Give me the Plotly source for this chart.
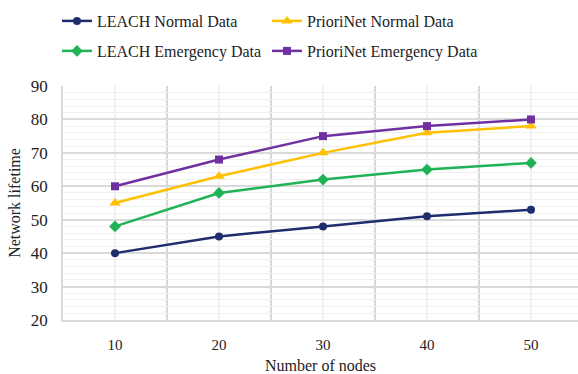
import plotly.graph_objects as go

nodes = [10, 20, 30, 40, 50]
tick_labels = ["10", "20", "30", "40", "50"]
leach_normal = [40, 45, 48, 51, 53]
priori_normal = [55, 63, 70, 76, 78]
leach_emerg = [48, 58, 62, 65, 67]
priori_emerg = [60, 68, 75, 78, 80]

names = ["LEACH Normal Data", "PrioriNet Normal Data", "LEACH Emergency Data", "PrioriNet Emergency Data"]
series = [leach_normal, priori_normal, leach_emerg, priori_emerg]
colors = ["#1F2C6E", "#FFC000", "#1FB356", "#7030A0"]
symbols = ["circle", "triangle-up", "diamond", "square"]
sizes = [8, 10, 9, 8]
legends = ["legend", "legend2", "legend3", "legend4"]

pos = list(range(1, len(nodes) + 1))
FONT = "Liberation Serif"

fig = go.Figure()
for n, s, c, sym, sz, lg in zip(names, series, colors, symbols, sizes, legends):
    fig.add_trace(go.Scatter(
        x=pos, y=s, name=n, mode="lines+markers",
        line=dict(color=c, width=2.5),
        marker=dict(symbol=sym, size=sz, color=c),
        legend=lg, showlegend=True,
    ))

leg = dict(orientation="h", xref="container", yref="container",
           xanchor="left", yanchor="top",
           font=dict(size=16, family=FONT, color="#222222"), itemwidth=30,
           bgcolor="rgba(0,0,0,0)")
W, H = 578, 374
fig.update_layout(
    width=W, height=H, showlegend=True,
    margin=dict(l=63, r=0, t=86, b=51),
    plot_bgcolor="white", paper_bgcolor="white",
    font=dict(family=FONT, size=16, color="#222222"),
    legend=dict(leg, x=57 / W, y=1 - 4 / H),
    legend2=dict(leg, x=267 / W, y=1 - 4 / H),
    legend3=dict(leg, x=57 / W, y=1 - 34 / H),
    legend4=dict(leg, x=267 / W, y=1 - 34 / H),
)

fig.update_xaxes(
    range=[0.5, 0.5 + 515 / 104],
    tickvals=pos, ticktext=tick_labels,
    tickfont=dict(size=15),
    showgrid=True, gridcolor="#F0F0F0", gridwidth=1.5,
    minor=dict(tickvals=[p - 0.5 for p in pos] + [pos[-1] + 0.5],
               showgrid=True, gridcolor="#D9D9D9", gridwidth=1.5),
    showline=True, linecolor="#D9D9D9", linewidth=1.5,
    ticks="", ticklabelstandoff=10,
    title=dict(text="Number of nodes", standoff=10, font=dict(size=16)),
    zeroline=False,
)
fig.update_yaxes(
    range=[20, 90], dtick=10, tick0=20,
    tickfont=dict(size=17),
    showgrid=True, gridcolor="#D9D9D9", gridwidth=1.5,
    minor=dict(dtick=2, showgrid=True, gridcolor="#F0F0F0", gridwidth=1),
    showline=True, linecolor="#D9D9D9", linewidth=1.5,
    ticks="", ticklabelstandoff=10,
    title=dict(text="Network lifetime", standoff=6, font=dict(size=16)),
    zeroline=False,
)

fig.write_html("out.html")
